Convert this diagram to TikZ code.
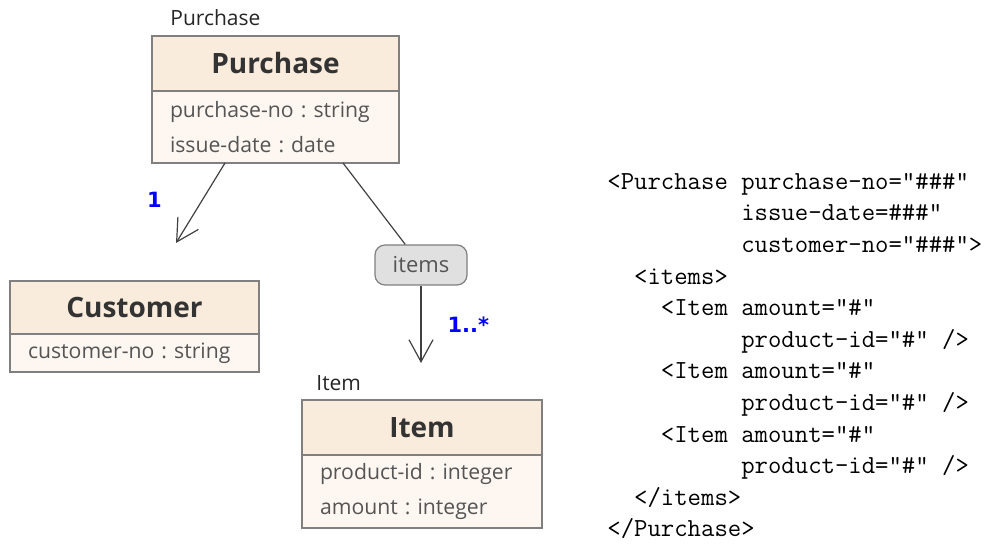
\documentclass[tikz,border=0pt]{standalone}
\usepackage{fontspec}
\usepackage{xcolor}
\usetikzlibrary{positioning,arrows.meta}
\newfontfamily\uifont{Open Sans}
\newfontfamily\multfont{DejaVu Sans}
\definecolor{headfill}{RGB}{250,236,221}
\definecolor{attrfill}{RGB}{253,246,241}
\definecolor{boxline}{RGB}{128,128,128}
\definecolor{inktext}{RGB}{51,51,51}
\definecolor{attrtext}{RGB}{85,85,85}
\definecolor{bubblefill}{RGB}{224,224,224}
\definecolor{multblue}{RGB}{0,0,255}
\definecolor{wire}{RGB}{64,64,64}
\newcommand{\xmlind}[1]{\hspace*{#1\fontcharwd\font`\x}}
\frenchspacing

\begin{document}
\begin{tikzpicture}[
    x=0.5pt, y=-0.5pt,
    classhead/.style={rectangle, draw=boxline, fill=headfill, line width=0.6pt, inner sep=0pt, outer sep=0pt, minimum height=27.5pt, text=inktext, font=\uifont\bfseries\fontsize{14}{16}\selectfont},
    classattr/.style={rectangle, draw=boxline, fill=attrfill, line width=0.6pt, inner xsep=9pt, inner ysep=0pt, outer sep=0pt, align=left, text=attrtext, font=\uifont\fontsize{10.6}{17.5}\selectfont},
    tag/.style={inner sep=1pt, text=black!85, font=\uifont\fontsize{10.5}{12}\selectfont},
    rolename/.style={rectangle, rounded corners=5pt, draw=boxline, fill=bubblefill, line width=0.6pt, minimum width=46pt, minimum height=20pt, inner sep=0pt, text=attrtext, font=\uifont\fontsize{11}{12}\selectfont},
    mult/.style={inner sep=3pt, text=multblue, font=\multfont\bfseries\fontsize{10.5}{12}\selectfont},
    assoc/.style={-{Straight Barb[length=11pt, width=12pt]}, draw=wire, line width=0.6pt},
    assocline/.style={draw=wire, line width=0.6pt},
    xmlcode/.style={inner sep=0pt, align=left, font=\ttfamily\fontsize{13}{15.8}\selectfont}
]
    \useasboundingbox (0,0) rectangle (998,544);

    % Classes
    \node[classhead, minimum width=123.5pt] (purhead) at (275.5,63.5) {Purchase};
    \node[classattr, below=0pt of purhead, text width=105.5pt, minimum height=36pt] (purattr) {purchase-no : string\\issue-date : date};
    \node[tag, above right=4pt and 8pt of purhead.north west] (purtag) {Purchase};

    \node[classhead, minimum width=124.5pt, minimum height=26.5pt] (custhead) at (134.5,307.5) {Customer};
    \node[classattr, below=0pt of custhead, text width=106.5pt, minimum height=19pt] (custattr) {customer-no : string};

    \node[classhead, minimum width=120pt] (itemhead) at (422,427.5) {Item};
    \node[classattr, below=0pt of itemhead, text width=102pt, minimum height=36.5pt] (itemattr) {product-id : integer\\amount : integer};
    \node[tag, above right=3.5pt and 6pt of itemhead.north west] (itemtag) {Item};

    % Role
    \node[rolename] (itemsrole) at (421,265) {items};
    \coordinate (custend) at (176,243);
    \coordinate (itemend) at (421,363);

    % Associations
    \draw[assoc] ([xshift=-25.25pt]purattr.south) -- node[mult, pos=0.46, left=17pt] {1} (custend);
    \draw[assocline] ([xshift=33.75pt]purattr.south) -- (itemsrole);
    \draw[assoc] (itemsrole) -- node[mult, right=10pt] {1..*} (itemend);

    % Instance (base is the last line)
    \node[xmlcode, anchor=base west] (xml) at (607,537) {%
        <Purchase purchase-no="\#\#\#"\\
        \xmlind{10}issue-date=\#\#\#"\\
        \xmlind{10}customer-no="\#\#\#">\\
        \xmlind{2}<items>\\
        \xmlind{4}<Item amount="\#"\\
        \xmlind{10}product-id="\#" />\\
        \xmlind{4}<Item amount="\#"\\
        \xmlind{10}product-id="\#" />\\
        \xmlind{4}<Item amount="\#"\\
        \xmlind{10}product-id="\#" />\\
        \xmlind{2}</items>\\
        </Purchase>};
\end{tikzpicture}
\end{document}
